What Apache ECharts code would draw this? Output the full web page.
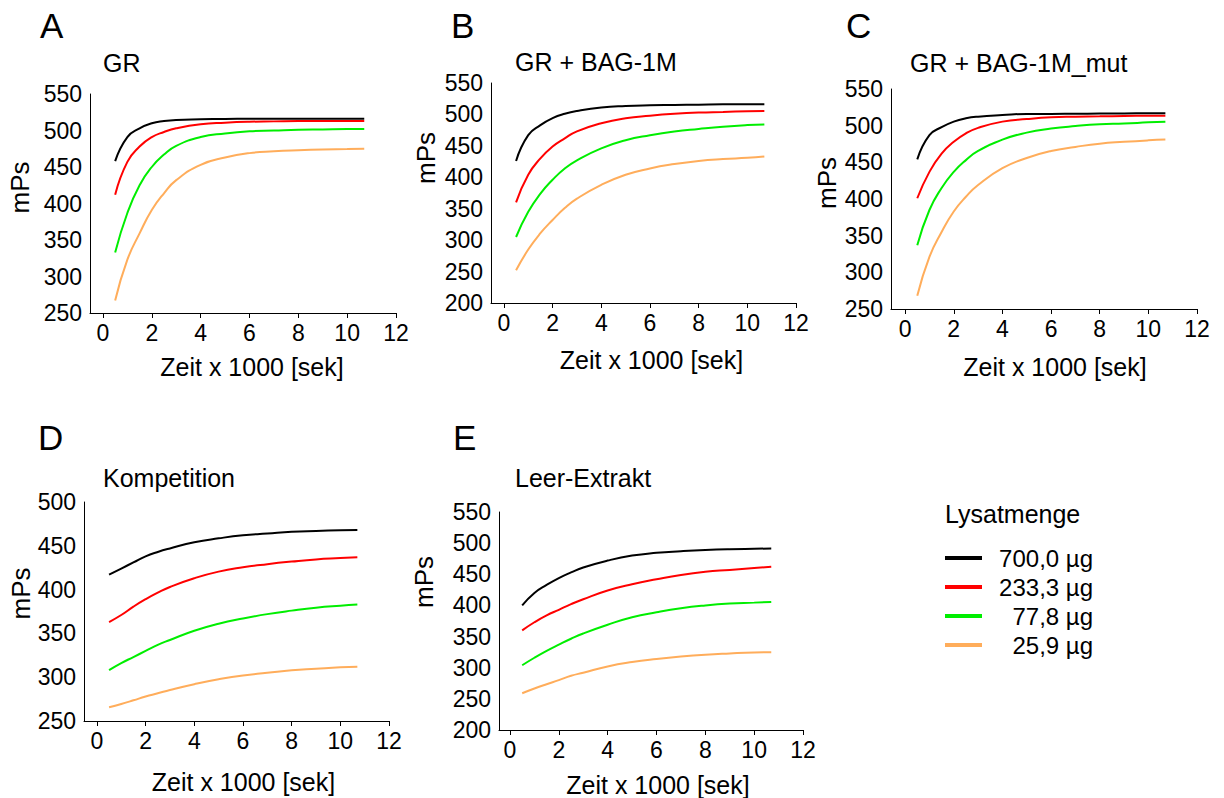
<!DOCTYPE html>
<html><head><meta charset="utf-8">
<script src="https://cdn.jsdelivr.net/npm/echarts@6/dist/echarts.min.js"></script>
<style>html,body{margin:0;padding:0;background:#fff}#c{width:1224px;height:798px}</style>
</head><body><div id="c"></div>
<script>
// ---- data ----
const timeK = [0.5, 1, 1.5, 2, 2.5, 3, 4, 5, 6, 7, 8, 9, 10, 10.7];   // Zeit x 1000 [sek]
const xTickValues = [0, 2, 4, 6, 8, 10, 12];
const doseNames = ['700,0 µg', '233,3 µg', '77,8 µg', '25,9 µg'];
const panelLetters = ['A', 'B', 'C', 'D', 'E'];
const panelTitles = ['GR', 'GR + BAG-1M', 'GR + BAG-1M_mut', 'Kompetition', 'Leer-Extrakt'];
const yRanges = [[250, 550], [200, 550], [250, 550], [250, 500], [200, 550]];

// A: GR
const gr_700   = [458, 491, 503, 510, 513, 514.5, 515.3, 515.8, 516, 516, 516, 516, 516, 516];
const gr_233   = [412, 457, 478, 491, 498, 503, 508.5, 510.7, 512, 512.5, 513, 513, 513, 513];
const gr_78    = [333, 387, 425, 450, 467, 479, 491, 496, 499, 500, 501, 501.5, 502, 502];
const gr_26    = [267, 323, 359, 391, 414, 432, 453, 463, 469, 471.5, 473, 474, 474.5, 475];
// B: GR + BAG-1M
const bag_700  = [426, 467, 483, 494, 501, 505.5, 511, 513.4, 514.5, 515, 515.5, 516, 516, 516];
const bag_233  = [360, 404, 430, 449, 462, 473, 486, 494, 498, 501, 503, 504, 505, 505.5];
const bag_78   = [305, 345, 374, 396, 414, 427, 446, 459, 467, 473, 477, 480.5, 483, 484];
const bag_26   = [252, 285, 311, 332, 351, 366, 388, 404, 414, 421, 426, 429, 431, 433];
// C: GR + BAG-1M_mut
const mut_700  = [454, 487, 498, 505.5, 510, 512.3, 514.5, 516, 516, 516.3, 516.5, 516.7, 516.8, 516.8];
const mut_233  = [401, 437, 462, 478, 489.5, 497, 505.5, 509, 511.4, 512.2, 512.7, 513.2, 513.5, 513.6];
const mut_78   = [337, 385, 415, 437, 453, 465.5, 481, 490.5, 496, 499.5, 502, 503, 504.5, 505.4];
const mut_26   = [268, 321, 355, 383, 403, 419, 442, 456, 465.5, 471, 475.5, 478, 480, 481];
// D: Kompetition
const komp_700 = [417, 424, 431, 438, 443, 447, 454, 458.5, 462, 464, 466, 467, 467.7, 468];
const komp_233 = [363, 371, 380.5, 389, 396.5, 403, 413, 420.5, 425.4, 429, 432, 434.5, 436, 437];
const komp_78  = [308, 316, 323, 330, 337, 342.5, 353, 361, 367, 372, 376, 379.4, 381.7, 383];
const komp_26  = [265.6, 269.4, 273.6, 278, 281.6, 285.4, 292, 297.6, 302, 305, 308, 309.7, 311.3, 312];
// E: Leer-Extrakt
const leer_700 = [400, 420, 433, 444, 453, 461, 472, 480, 484.4, 487, 489, 490.3, 491, 491.4];
const leer_233 = [360, 373, 384, 393, 402, 410, 424, 434, 442, 449, 454, 457, 460, 462];
const leer_78  = [304, 316, 327, 337, 346.5, 355, 369, 381, 389, 395.5, 400, 403, 404.5, 405.7];
const leer_26  = [259, 266.6, 273.5, 280, 287, 292, 302, 309, 314, 318, 321, 323, 324.6, 325];

const panelSeries = [
  [gr_700, gr_233, gr_78, gr_26],
  [bag_700, bag_233, bag_78, bag_26],
  [mut_700, mut_233, mut_78, mut_26],
  [komp_700, komp_233, komp_78, komp_26],
  [leer_700, leer_233, leer_78, leer_26]
];

// ---- layout / style ----
const colors = ['#000000', '#ff0000', '#00ee00', '#ffad5b'];
const FONT = '"Liberation Sans", Arial, sans-serif';
const layout = [
  {l: 90,  r: 396,  t: 94,  b: 313, xmin: -0.53, gy: 57, sy: 16, gx: 41, sx: 9,  letter: [40, 8],   title: [103, 50]},
  {l: 491, r: 796,  t: 83,  b: 303, xmin: -0.53, gy: 52, sy: 35, gx: 44, sx: 8,  letter: [451, 8],  title: [515, 49]},
  {l: 891, r: 1197, t: 89,  b: 309, xmin: -0.58, gy: 51, sy: 16, gx: 45, sx: 11, letter: [846, 8],  title: [910, 50]},
  {l: 84,  r: 389,  t: 502, b: 721, xmin: -0.53, gy: 49, sy: 18, gx: 48, sx: 7,  letter: [38, 420], title: [103, 465]},
  {l: 499, r: 803,  t: 512, b: 731, xmin: -0.45, gy: 62, sy: 39, gx: 42, sx: 7,  letter: [453, 420], title: [515, 465]}
];

const grid = [], xAxis = [], yAxis = [], series = [], title = [];
layout.forEach((p, i) => {
  grid.push({left: p.l, top: p.t, width: p.r - p.l, height: p.b - p.t});
  xAxis.push({
    type: 'value', gridIndex: i, min: p.xmin, max: 12,
    axisLine: {show: true, onZero: false, lineStyle: {color: '#000', width: 1}},
    axisTick: {show: true, customValues: xTickValues, length: 5, lineStyle: {color: '#000'}},
    axisLabel: {customValues: xTickValues, fontSize: 23, fontFamily: FONT, color: '#000', margin: 8},
    splitLine: {show: false},
    name: 'Zeit x 1000 [sek]', nameLocation: 'middle', nameGap: p.gx,
    nameTextStyle: {fontSize: 25, fontFamily: FONT, color: '#000', padding: [0, 0, 0, 2 * p.sx]}
  });
  yAxis.push({
    type: 'value', gridIndex: i, min: yRanges[i][0], max: yRanges[i][1], interval: 50,
    axisLine: {show: true, onZero: false, lineStyle: {color: '#000', width: 1}},
    axisTick: {show: false},
    axisLabel: {fontSize: 23, fontFamily: FONT, color: '#000', margin: 8},
    splitLine: {show: false},
    name: 'mPs', nameLocation: 'middle', nameRotate: 90, nameGap: p.gy,
    nameTextStyle: {fontSize: 26, fontFamily: FONT, color: '#000', padding: [0, 0, 0, 2 * p.sy]}
  });
  panelSeries[i].forEach((vals, k) => {
    series.push({
      type: 'line', name: doseNames[k], xAxisIndex: i, yAxisIndex: i,
      data: timeK.map((t, j) => [t, vals[j]]),
      smooth: 0.5, symbol: 'none', silent: true,
      lineStyle: {color: colors[k], width: 2}, itemStyle: {color: colors[k]},
      z: 10 - k
    });
  });
  title.push({text: panelLetters[i], left: p.letter[0], top: p.letter[1],
    textStyle: {fontSize: 35, fontWeight: 'normal', fontFamily: FONT, color: '#000'}, padding: 0});
  title.push({text: panelTitles[i], left: p.title[0], top: p.title[1],
    textStyle: {fontSize: 25, fontWeight: 'normal', fontFamily: FONT, color: '#000'}, padding: 0});
});
title.push({text: 'Lysatmenge', left: 945, top: 501,
  textStyle: {fontSize: 25, fontWeight: 'normal', fontFamily: FONT, color: '#000'}, padding: 0});

const chart = echarts.init(document.getElementById('c'), null, {renderer: 'svg'});
chart.setOption({
  animation: false,
  backgroundColor: '#fff',
  title, grid, xAxis, yAxis, series,
  legend: {
    data: doseNames, orient: 'vertical', left: 945, top: 546, padding: 0,
    icon: 'rect', itemWidth: 37, itemHeight: 4, itemGap: 5, selectedMode: false,
    formatter: n => '{v|' + n + '}',
    textStyle: {fontSize: 24, fontFamily: FONT, color: '#000',
      rich: {v: {fontSize: 24, fontFamily: FONT, color: '#000', width: 106, align: 'right', lineHeight: 24}}}
  }
});
</script></body></html>
